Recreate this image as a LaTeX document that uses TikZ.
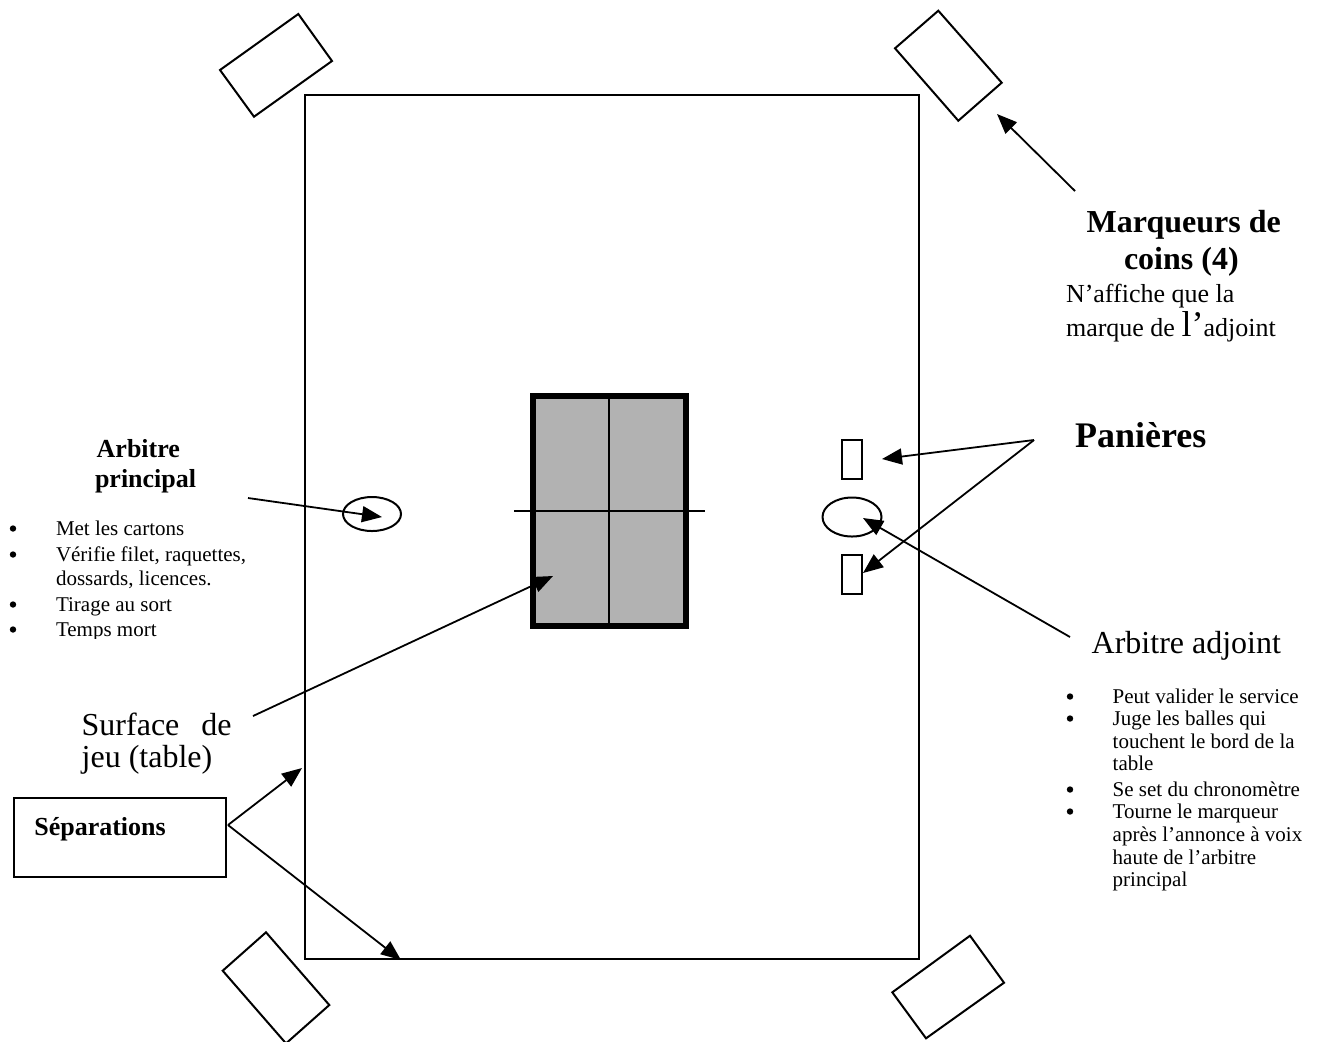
\documentclass[tikz,border=0pt]{standalone}
\usepackage{fontspec}
\setmainfont{Liberation Serif}
\usetikzlibrary{arrows.meta,shapes.geometric}
\begin{document}
\begin{tikzpicture}[x=0.5pt,y=-0.5pt,
  thin/.style={line width=1pt},
  arr/.style={line width=0.9pt,-{Triangle[length=10pt,width=8pt]}},
  txt/.style={anchor=base west,inner sep=0pt,outer sep=0pt},
  lst/.style={txt,font=\fontsize{10.5}{12}\selectfont},
  bul/.style={circle,fill=black,inner sep=0pt,minimum size=3.2pt},
  ttlB/.style={txt,font=\fontsize{13}{15}\selectfont\bfseries},
  big/.style={txt,font=\fontsize{16}{18}\selectfont},
  bigB/.style={txt,font=\fontsize{16}{18}\selectfont\bfseries},
  mid/.style={txt,font=\fontsize{13}{15}\selectfont},
]
\useasboundingbox (0,0) rectangle (1325,1041);

% separation (enclosure)
\draw[thin] (305,95) rectangle (919,959);

% corner markers
\draw[thin] (298.3,14) -- (332,61) -- (254,116.7) -- (220,70) -- cycle;
\draw[thin] (938.3,10.7) -- (1001.7,82.7) -- (958.3,120.7) -- (895,48.3) -- cycle;
\draw[thin] (266,932.3) -- (329.3,1005) -- (286,1043.4) -- (222.7,970.7) -- cycle;
\draw[thin] (970,935.7) -- (1004,982.7) -- (926,1038.3) -- (892.3,992.3) -- cycle;

% table
\draw[line width=2.75pt, fill=black!30] (532.8,396) rectangle (686.2,626);
\draw[thin] (609,396) -- (609,626);
\draw[thin] (514,511) -- (705,511);

% referees and baskets
\node[draw, thin, ellipse, minimum width=29pt, minimum height=17pt, inner sep=0pt] (ap) at (372,514) {};
\node[draw, thin, ellipse, minimum width=29.5pt, minimum height=19.5pt, inner sep=0pt] (aa) at (852,517) {};
\node[draw, thin, rectangle, minimum width=10pt, minimum height=19.5pt, inner sep=0pt] (pan1) at (852,459.5) {};
\node[draw, thin, rectangle, minimum width=10pt, minimum height=19.5pt, inner sep=0pt] (pan2) at (852,574.5) {};

% separations box
\node[draw, thin, rectangle, minimum width=106pt, minimum height=39.5pt, inner sep=0pt] (sepbox) at (120,837.5) {};

% texts
\node[bigB] (mq1) at (1086.7,232) {Marqueurs de};
\node[bigB] (mq2) at (1124,269) {coins (4)};
\node[mid] (mq3) at (1066,302) {N’affiche que la};
\node[mid] (mq4) at (1066,336) {marque de {\fontsize{18}{18}\selectfont l’}adjoint};

\node[txt,font=\fontsize{18}{20}\selectfont\bfseries] (pan) at (1075,447) {Panières};

\node[big] (adj) at (1091.7,653) {Arbitre adjoint};
\foreach \yy [count=\i] in {703,725,796,818} \node[bul] (rb\i) at (1070,\yy-6.5) {};
\node[lst] (r1) at (1112.7,703) {Peut valider le service};
\node[lst] (r2) at (1112.7,725) {Juge les balles qui};
\node[lst] (r3) at (1112.7,748) {touchent le bord de la};
\node[lst] (r4) at (1112.7,770) {table};
\node[lst] (r5) at (1112.7,796) {Se set du chronomètre};
\node[lst] (r6) at (1112.7,818) {Tourne le marqueur};
\node[lst] (r7) at (1112.7,841) {après l’annonce à voix};
\node[lst] (r8) at (1112.7,864) {haute de l’arbitre};
\node[lst] (r9) at (1112.7,886) {principal};

\node[ttlB] (ap1) at (96.7,457) {Arbitre};
\node[ttlB] (ap2) at (95,487) {principal};
\begin{scope}
\clip (0,500) rectangle (300,638.5);
\foreach \yy [count=\i] in {535,561,611,636} \node[bul] (lb\i) at (13,\yy-6.5) {};
\node[lst] (l1) at (56,535) {Met les cartons};
\node[lst] (l2) at (56,561) {Vérifie filet, raquettes,};
\node[lst] (l3) at (56,585) {dossards, licences.};
\node[lst] (l4) at (56,611) {Tirage au sort};
\node[lst] (l5) at (56,636) {Temps mort};
\end{scope}

\node[big] (sf1) at (81.7,735) {\makebox[75pt][l]{Surface\hfill de}};
\node[big] (sf2) at (81.7,767) {jeu (table)};

\node[ttlB] (sep) at (34.3,835) {Séparations};

% arrow endpoints
\coordinate (mqS) at (1075,191);
\coordinate (mqT) at (997,114);
\coordinate (panV) at (1034,440);
\coordinate (panT1) at (882,459);
\coordinate (panT2) at (863,573);
\coordinate (adjS) at (1070,637);
\coordinate (adjT) at (863,518);
\coordinate (apS) at (248,498);
\coordinate (apT) at (382,517);
\coordinate (sfS) at (253,716);
\coordinate (sfT) at (553,576);
\coordinate (sepV) at (228,825);
\coordinate (sepT1) at (302,768);
\coordinate (sepT2) at (401,960);

\draw[arr] (mqS) -- (mqT);
\draw[arr] (panV) -- (panT1);
\draw[arr] (panV) -- (panT2);
\draw[arr] (adjS) -- (adjT);
\draw[arr] (apS) -- (apT);
\draw[arr] (sfS) -- (sfT);
\draw[arr] (sepV) -- (sepT1);
\draw[arr] (sepV) -- (sepT2);
\end{tikzpicture}
\end{document}
